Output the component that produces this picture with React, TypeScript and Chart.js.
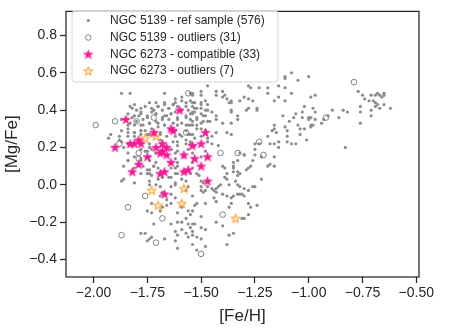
import React, { useEffect, useRef } from "react";
import { Chart, registerables } from "chart.js";

Chart.register(...registerables);

// ---------- data ----------
const xTickValues = [-2.0, -1.75, -1.5, -1.25, -1.0, -0.75, -0.5];
const yTickValues = [-0.4, -0.2, 0.0, 0.2, 0.4, 0.6, 0.8];

const legendLabels = [
  "NGC 5139 - ref sample (576)",
  "NGC 5139 - outliers (31)",
  "NGC 6273 - compatible (33)",
  "NGC 6273 - outliers (7)",
];

// NGC 5139 reference sample
const refFeH = [
  -1.11, -1.11, -1.08, -1.05, -1.0, -1.14, -1.11, -1.08, -1.14, -1.11, -0.99, -0.97, -1.3, -1.28, -1.26, -1.28, -1.24, -1.24,
  -1.27, -1.23, -1.19, -1.02, -1.06, -1.12, -0.98, -0.97, -0.89, -0.84, -0.82, -0.86, -1.0, -0.99, -1.0, -0.97, -0.99, -0.99,
  -0.98, -0.93, -0.94, -0.91, -1.03, -1.04, -1.16, -1.17, -1.11, -1.1, -1.14, -1.1, -1.08, -1.06, -1.19, -1.25, -1.25, -1.25,
  -1.26, -1.28, -1.29, -1.32, -1.3, -1.16, -1.18, -1.19, -1.16, -1.22, -1.25, -1.26, -1.3, -1.28, -1.31, -1.3, -1.28, -1.27,
  -1.24, -1.28, -1.3, -0.83,
  -0.77, -0.75, -0.74, -0.72, -0.71, -0.69, -0.68, -0.67, -0.65, -0.65, -0.7, -0.69, -0.68, -0.69, -0.67, -0.65, -0.62, -0.76,
  -0.76, -0.71, -0.71, -0.76, -0.66,
  -1.54, -1.5, -1.5, -1.43, -1.4, -1.39, -1.4, -1.38, -1.36, -1.37, -1.36, -1.55, -1.53, -1.5, -1.48, -1.47, -1.53, -1.5,
  -1.48, -1.54, -1.53, -1.5, -1.48, -1.45, -1.43, -1.43, -1.46, -1.49, -1.52, -1.54, -1.55, -1.36, -1.36, -1.33, -1.33, -1.36,
  -1.4, -1.38, -1.36, -1.43, -1.45, -1.47, -1.5, -1.52, -1.5, -1.48, -1.55, -1.53,
  -1.29, -1.03, -1.07, -1.09, -1.05, -1.02, -1.04, -1.1, -1.16, -1.15, -1.18, -1.14, -1.01,
  -1.87, -1.83, -1.67, -1.62, -1.59, -1.54, -1.43, -1.32, -1.19, -1.16, -1.71, -1.47, -1.28,
  -1.62, -1.59, -1.55, -1.57, -1.63, -1.67, -1.7, -1.73, -1.68, -1.65, -1.61, -1.59, -1.56, -1.54, -1.62, -1.64, -1.67, -1.71,
  -1.73, -1.75, -1.78, -1.79, -1.77, -1.82, -1.87, -1.84, -1.81, -1.78, -1.74, -1.71, -1.68, -1.65, -1.61, -1.57, -1.55, -1.61,
  -1.57, -1.54, -1.67, -1.7, -1.73, -1.76, -1.78, -1.81, -1.84, -1.81, -1.78, -1.75, -1.69, -1.66, -1.62, -1.59, -1.56, -1.61,
  -1.57, -1.55, -1.69, -1.87, -1.84, -1.74, -1.93, -1.54, -1.8, -1.92, -1.88, -1.82,
  -1.87, -1.84, -1.78, -1.75, -1.73, -1.71, -1.78, -1.74, -1.71, -1.72, -1.7, -1.74, -1.77, -1.75, -1.73, -1.68, -1.65, -1.62,
  -1.62, -1.61, -1.62, -1.64, -1.61, -1.56, -1.54, -1.55, -1.59, -1.62, -1.64, -1.69, -1.68, -1.64, -1.62, -1.64, -1.66, -1.68,
  -1.71, -1.74, -1.73, -1.75, -1.73, -1.69, -1.59, -1.61, -1.56, -1.57, -1.61, -1.64, -1.56, -1.59, -1.62, -1.57, -1.54, -1.56,
  -1.62, -1.72, -1.78, -1.76, -1.75, -1.74, -1.73, -1.67, -1.61, -1.54, -1.57, -1.56,
  -1.55, -1.54, -1.54, -1.52, -1.54, -1.61, -1.59, -1.69, -1.66,
  -1.45, -1.42, -1.3, -1.23, -1.22, -1.33, -1.35, -1.35, -1.35, -1.4, -1.39, -1.27, -1.38, -1.39, -1.38, -1.35, -1.33, -1.32,
  -1.33, -1.34, -1.33, -1.32, -1.37, -1.41, -1.42, -1.51, -1.49, -1.5, -1.5, -1.49, -1.48, -1.47, -1.45, -1.44, -1.43, -1.43,
  -1.44, -1.43, -1.43, -1.4, -1.38, -1.36, -1.35, -1.33, -1.32, -1.36, -1.37, -1.53, -1.52, -1.48, -1.54, -1.5, -1.43, -1.4,
  -1.31, -1.53, -1.5, -1.48, -1.52, -1.5, -1.55, -1.37, -1.35, -1.38, -1.48, -1.16,
  -1.83, -1.81, -1.78, -1.76, -1.74, -1.72, -1.7, -1.67, -1.65, -1.63, -1.57, -1.54, -1.52, -1.5, -1.47, -1.84, -1.81, -1.78,
  -1.75, -1.71, -1.68, -1.66, -1.64, -1.61, -1.57, -1.55, -1.52, -1.49, -1.83, -1.8, -1.77, -1.74, -1.7, -1.67, -1.63, -1.59,
  -1.56, -1.5, -1.47, -1.87, -1.84, -1.81, -1.78, -1.74, -1.69, -1.62, -1.6, -1.57, -1.54, -1.52, -1.84, -1.88, -1.86, -1.63,
  -1.61, -1.57, -1.55, -1.53, -1.47, -1.74, -1.64, -1.84, -1.81, -1.76, -1.74, -1.71, -1.62, -1.58, -1.54, -1.5, -1.48, -1.84,
  -1.78, -1.86, -1.81, -1.75, -1.72, -1.64, -1.61, -1.54, -1.74, -1.78, -1.61, -1.52, -1.86, -1.81, -1.74, -1.7, -1.64, -1.62,
  -1.57, -1.5,
];
const refMgFe = [
  0.58, 0.57, 0.6, 0.56, 0.58, 0.53, 0.52, 0.49, 0.47, 0.45, 0.47, 0.48, 0.47, 0.46, 0.45, 0.41, 0.41, 0.4,
  0.52, 0.52, 0.52, 0.42, 0.38, 0.37, 0.41, 0.39, 0.4, 0.4, 0.39, 0.36, 0.36, 0.36, 0.35, 0.35, 0.32, 0.31,
  0.32, 0.35, 0.33, 0.37, 0.36, 0.3, 0.32, 0.29, 0.31, 0.29, 0.23, 0.23, 0.22, 0.22, 0.26, 0.22, 0.19, 0.16,
  0.13, 0.09, 0.08, 0.17, 0.16, 0.15, 0.11, 0.1, 0.1, 0.03, -0.01, -0.01, -0.02, -0.03, -0.05, -0.06, -0.1, -0.12,
  -0.11, -0.16, -0.18, 0.2,
  0.5, 0.48, 0.46, 0.45, 0.48, 0.48, 0.49, 0.48, 0.49, 0.48, 0.45, 0.44, 0.43, 0.42, 0.41, 0.43, 0.41, 0.42,
  0.39, 0.4, 0.37, 0.33, 0.47,
  0.49, 0.5, 0.48, 0.5, 0.5, 0.48, 0.47, 0.46, 0.45, 0.44, 0.44, 0.45, 0.44, 0.44, 0.45, 0.43, 0.41, 0.41,
  0.4, 0.39, 0.39, 0.38, 0.37, 0.39, 0.37, 0.35, 0.34, 0.34, 0.35, 0.34, 0.32, 0.4, 0.39, 0.37, 0.35, 0.33,
  0.33, 0.28, 0.27, 0.28, 0.26, 0.25, 0.26, 0.32, 0.3, 0.29, 0.27, 0.25,
  0.4, 0.39, 0.36, 0.34, 0.32, 0.3, 0.27, 0.26, 0.3, 0.28, 0.22, 0.2, 0.24,
  0.49, 0.49, 0.49, 0.44, 0.45, 0.48, 0.48, 0.45, 0.49, 0.45, 0.44, 0.53, 0.53,
  0.46, 0.47, 0.49, 0.44, 0.43, 0.44, 0.42, 0.41, 0.4, 0.41, 0.42, 0.4, 0.4, 0.42, 0.39, 0.38, 0.37, 0.38,
  0.39, 0.37, 0.39, 0.37, 0.35, 0.36, 0.35, 0.32, 0.32, 0.32, 0.33, 0.34, 0.35, 0.35, 0.35, 0.36, 0.35, 0.32,
  0.32, 0.32, 0.32, 0.31, 0.3, 0.29, 0.29, 0.28, 0.28, 0.26, 0.27, 0.27, 0.27, 0.26, 0.26, 0.26, 0.27, 0.23,
  0.24, 0.22, 0.24, 0.23, 0.22, 0.22, 0.25, 0.38, 0.4, 0.27, 0.26, 0.41,
  0.02, 0.13, 0.19, 0.18, 0.19, 0.17, 0.14, 0.13, 0.12, 0.1, 0.09, 0.08, 0.1, 0.06, 0.05, 0.04, 0.04, 0.06,
  0.09, 0.12, 0.14, 0.19, 0.18, 0.19, 0.12, 0.06, 0.03, 0.0, -0.01, -0.01, -0.04, -0.05, -0.07, -0.1, -0.11, -0.12,
  0.0, 0.0, -0.1, -0.14, -0.15, -0.14, -0.12, -0.15, -0.14, -0.18, -0.2, -0.21, -0.21, -0.24, -0.25, -0.26, -0.25, -0.28,
  -0.3, -0.21, -0.26, -0.26, -0.3, -0.29, -0.28, -0.29, -0.34, -0.06, -0.03, -0.01,
  -0.16, -0.21, -0.27, -0.35, -0.32, -0.27, -0.2, -0.06, -0.08,
  0.22, 0.21, 0.16, 0.22, 0.15, 0.13, 0.12, 0.1, 0.09, 0.1, 0.09, 0.1, 0.06, 0.04, 0.03, 0.07, 0.07, 0.06,
  0.05, 0.02, 0.0, -0.01, 0.0, 0.0, -0.01, 0.05, 0.01, -0.01, -0.03, -0.04, -0.03, -0.01, -0.02, -0.03, -0.02, -0.04,
  -0.07, -0.09, -0.09, -0.05, -0.06, -0.07, -0.06, -0.05, -0.05, -0.1, -0.12, -0.11, -0.1, -0.1, -0.14, -0.17, -0.2, -0.22,
  -0.18, -0.21, -0.23, -0.24, -0.28, -0.29, -0.23, -0.27, -0.26, -0.32, -0.33, 0.22,
  0.42, 0.43, 0.41, 0.42, 0.44, 0.4, 0.42, 0.43, 0.41, 0.43, 0.42, 0.44, 0.41, 0.43, 0.4, 0.38, 0.37, 0.38,
  0.36, 0.38, 0.36, 0.37, 0.38, 0.36, 0.37, 0.38, 0.36, 0.37, 0.33, 0.34, 0.32, 0.33, 0.33, 0.32, 0.33, 0.33,
  0.32, 0.33, 0.34, 0.29, 0.3, 0.28, 0.29, 0.27, 0.28, 0.29, 0.27, 0.29, 0.27, 0.3, 0.26, 0.24, 0.2, 0.23,
  0.21, 0.22, 0.23, 0.21, 0.23, 0.2, 0.19, 0.17, 0.15, 0.18, 0.15, 0.17, 0.17, 0.15, 0.17, 0.15, 0.18, 0.13,
  0.13, 0.1, 0.09, 0.08, 0.1, 0.09, 0.1, 0.09, 0.06, 0.06, 0.06, 0.06, 0.03, 0.01, 0.02, 0.03, 0.04, 0.01,
  0.02, 0.02,
];

// NGC 5139 outliers
const outFeH = [
  -1.88, -1.56, -1.9, -1.99, -1.72, -1.8, -1.57, -1.79, -1.79, -1.88, -1.41, -1.33, -1.21, -1.23, -1.76, -1.84, -1.68,
  -1.87, -1.71, -1.5, -1.4, -0.79, -0.92,
];
const outMgFe = [
  0.81, 0.49, 0.34, 0.32, 0.36, 0.34, 0.28, 0.17, 0.14, 0.22, 0.17, 0.17, 0.16, 0.23, -0.06, -0.12, -0.18,
  -0.27, -0.31, -0.37, -0.16, 0.55, 0.36,
];

// NGC 6273 compatible
const compFeH = [
  -1.6, -1.85, -1.64, -1.63, -1.48, -1.72, -1.79, -1.83, -1.9, -1.68, -1.71, -1.5, -1.68, -1.66, -1.69, -1.75, -1.58,
  -1.53, -1.47, -1.64, -1.79, -1.5, -1.82, -1.69, -1.67, -1.58, -1.56, -1.47, -1.67, -1.81, -1.78, -1.66, -1.54,
];
const compMgFe = [
  0.4, 0.35, 0.3, 0.29, 0.28, 0.28, 0.24, 0.22, 0.2, 0.22, 0.2, 0.22, 0.18, 0.16, 0.17, 0.15, 0.16,
  0.14, 0.15, 0.12, 0.11, 0.1, 0.07, 0.06, 0.07, 0.07, 0.08, 0.02, -0.05, 0.22, 0.22, 0.2, 0.21,
];

// NGC 6273 outliers
const orFeH = [-1.76, -1.71, -1.73, -1.58, -1.7, -1.59, -1.34];
const orMgFe = [0.25, 0.26, -0.03, -0.02, -0.11, -0.1, -0.18];

// ---------- styling ----------
const FONT = "'Liberation Sans', Arial, sans-serif";
const INK = "#262626";
const GREY = "#8c8c8c";
const PINK = "#ff1493";
const ORANGE = "#ffa033";

const fmt = (v: number, d: number) => (v < -1e-9 ? "\u2212" : "") + Math.abs(v).toFixed(d);

function makeStar(r: number, fill: string | null, stroke: string | null, lw: number) {
  const size = Math.ceil(2 * r + 2 * lw + 2);
  const c = document.createElement("canvas");
  c.width = size;
  c.height = size;
  const ctx = c.getContext("2d")!;
  const cx = size / 2;
  const cy = size / 2 + r * 0.08;
  const inner = r * 0.4;
  ctx.beginPath();
  for (let i = 0; i < 10; i++) {
    const rad = i % 2 === 0 ? r : inner;
    const a = -Math.PI / 2 + (i * Math.PI) / 5;
    ctx.lineTo(cx + rad * Math.cos(a), cy + rad * Math.sin(a));
  }
  ctx.closePath();
  if (fill) {
    ctx.fillStyle = fill;
    ctx.fill();
  }
  if (stroke) {
    ctx.strokeStyle = stroke;
    ctx.lineWidth = lw;
    ctx.lineJoin = "miter";
    ctx.stroke();
  }
  return c;
}

export default function App() {
  const ref = useRef<HTMLCanvasElement | null>(null);

  useEffect(() => {
    if (!ref.current) return;
    const pinkStar = makeStar(4.8, PINK, PINK, 0.6);
    const orangeStar = makeStar(4.5, null, ORANGE, 1.1);

    const framePlugin = {
      id: "frame",
      afterDraw(chart: any) {
        const { ctx, chartArea } = chart;
        ctx.save();
        ctx.strokeStyle = INK;
        ctx.lineWidth = 1.25;
        ctx.strokeRect(chartArea.left, chartArea.top, chartArea.right - chartArea.left, chartArea.bottom - chartArea.top);
        // legend
        const lx = 72, ly = 11, lw = 206, lh = 71, rr = 3;
        ctx.beginPath();
        ctx.moveTo(lx + rr, ly);
        ctx.lineTo(lx + lw - rr, ly);
        ctx.quadraticCurveTo(lx + lw, ly, lx + lw, ly + rr);
        ctx.lineTo(lx + lw, ly + lh - rr);
        ctx.quadraticCurveTo(lx + lw, ly + lh, lx + lw - rr, ly + lh);
        ctx.lineTo(lx + rr, ly + lh);
        ctx.quadraticCurveTo(lx, ly + lh, lx, ly + lh - rr);
        ctx.lineTo(lx, ly + rr);
        ctx.quadraticCurveTo(lx, ly, lx + rr, ly);
        ctx.closePath();
        ctx.fillStyle = "rgba(255,255,255,0.8)";
        ctx.fill();
        ctx.strokeStyle = "#d6d6d6";
        ctx.lineWidth = 1;
        ctx.stroke();

        const rows = [20.5, 37.5, 54.3, 71];
        const mx = 88.3;
        ctx.beginPath();
        ctx.arc(mx, rows[0], 1.6, 0, Math.PI * 2);
        ctx.fillStyle = GREY;
        ctx.fill();
        ctx.beginPath();
        ctx.arc(mx, rows[1], 2.8, 0, Math.PI * 2);
        ctx.strokeStyle = "#808080";
        ctx.lineWidth = 1;
        ctx.stroke();
        ctx.drawImage(pinkStar, mx - pinkStar.width / 2, rows[2] - pinkStar.height / 2);
        ctx.drawImage(orangeStar, mx - orangeStar.width / 2, rows[3] - orangeStar.height / 2);
        ctx.fillStyle = INK;
        ctx.font = `12px ${FONT}`;
        ctx.textBaseline = "middle";
        ctx.textAlign = "left";
        legendLabels.forEach((t, i) => ctx.fillText(t, 110, rows[i]));
        ctx.restore();
      },
    };

    const chart = new Chart(ref.current, {
      type: "scatter",
      data: {
        datasets: [
          {
            label: legendLabels[0],
            data: refFeH.map((x, i) => ({ x, y: refMgFe[i] })),
            pointStyle: "circle",
            pointRadius: 1.6,
            pointBackgroundColor: GREY,
            pointBorderWidth: 0,
            order: 4,
          },
          {
            label: legendLabels[1],
            data: outFeH.map((x, i) => ({ x, y: outMgFe[i] })),
            pointStyle: "circle",
            pointRadius: 2.8,
            pointBackgroundColor: "rgba(0,0,0,0)",
            pointBorderColor: "#808080",
            pointBorderWidth: 1,
            order: 3,
          },
          {
            label: legendLabels[2],
            data: compFeH.map((x, i) => ({ x, y: compMgFe[i] })),
            pointStyle: pinkStar as any,
            pointRadius: 5,
            order: 1,
          },
          {
            label: legendLabels[3],
            data: orFeH.map((x, i) => ({ x, y: orMgFe[i] })),
            pointStyle: orangeStar as any,
            pointRadius: 5,
            order: 2,
          },
        ],
      },
      options: {
        animation: false,
        responsive: false,
        devicePixelRatio: 1,
        events: [],
        layout: { padding: { top: 4, right: 30, left: 0, bottom: 0 } },
        plugins: { legend: { display: false }, tooltip: { enabled: false } },
        scales: {
          x: {
            type: "linear",
            min: -2.128,
            max: -0.4875,
            afterBuildTicks: (s: any) => {
              s.ticks = xTickValues.map((v) => ({ value: v }));
            },
            afterFit: (s: any) => {
              s.height = 58;
            },
            border: { display: false },
            grid: {
              display: true,
              drawOnChartArea: false,
              drawTicks: true,
              tickLength: 6,
              tickWidth: 1.25,
              tickColor: INK,
              color: INK,
            },
            ticks: {
              color: INK,
              font: { family: FONT, size: 14 },
              padding: 2,
              maxRotation: 0,
              autoSkip: false,
              callback: (v: any) => fmt(Number(v), 2),
            },
            title: {
              display: true,
              text: "[Fe/H]",
              color: INK,
              font: { family: FONT, size: 17 },
              padding: { top: 0, bottom: 8 },
            },
          },
          y: {
            type: "linear",
            min: -0.494,
            max: 0.929,
            afterBuildTicks: (s: any) => {
              s.ticks = yTickValues.map((v) => ({ value: v }));
            },
            afterFit: (s: any) => {
              s.width = 66;
            },
            border: { display: false },
            grid: {
              display: true,
              drawOnChartArea: false,
              drawTicks: true,
              tickLength: 6,
              tickWidth: 1.25,
              tickColor: INK,
              color: INK,
            },
            ticks: {
              color: INK,
              font: { family: FONT, size: 14 },
              padding: 3,
              autoSkip: false,
              callback: (v: any) => fmt(Number(v), 1),
            },
            title: {
              display: true,
              text: "[Mg/Fe]",
              color: INK,
              font: { family: FONT, size: 17 },
              padding: { top: 2, bottom: 0 },
            },
          },
        },
      },
      plugins: [framePlugin],
    } as any);

    return () => chart.destroy();
  }, []);

  return (
    <div style={{ position: "fixed", left: 0, top: 0, width: 449, height: 335, background: "#fff" }}>
      <canvas ref={ref} width={449} height={335} style={{ display: "block", width: 449, height: 335 }} />
    </div>
  );
}
